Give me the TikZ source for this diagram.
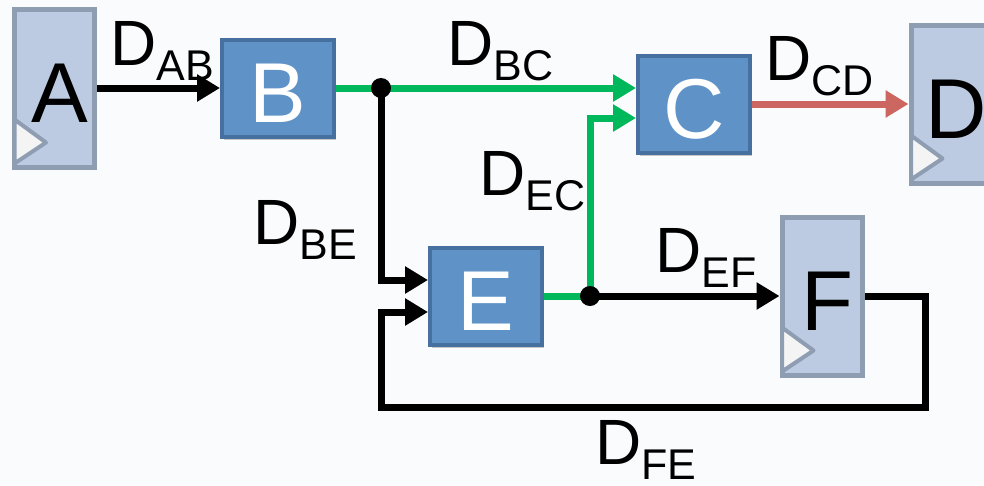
\documentclass[tikz,border=0pt]{standalone}
\usepackage{fontspec}
\setmainfont{Liberation Sans}
\usetikzlibrary{arrows.meta,shadows}

\definecolor{fffill}{HTML}{BCCBE1}
\definecolor{ffline}{HTML}{8F9DB3}
\definecolor{blkfill}{HTML}{5F93C8}
\definecolor{blkline}{HTML}{46709F}
\definecolor{wgreen}{HTML}{00B85C}
\definecolor{wred}{HTML}{CC6660}
\definecolor{clkfill}{HTML}{F4F4F4}
\definecolor{bgcol}{HTML}{FAFBFC}

\newcommand{\dsub}[1]{D\raisebox{-15pt}{\fontsize{43}{43}\selectfont #1}}
\newcommand{\clk}[1]{\draw[clkmark] ([xshift=2.5pt,yshift=6pt]#1.south west) -- ([xshift=34pt,yshift=27pt]#1.south west) -- ([xshift=2.5pt,yshift=50pt]#1.south west) -- cycle;}

\tikzset{
  blk/.style={draw=blkline, fill=blkfill, line width=4pt, minimum width=112pt, minimum height=97pt,
    inner sep=0pt, text=white, font=\fontsize{85}{85}\selectfont, text height=68pt, text depth=0pt,
    drop shadow={shadow xshift=2pt, shadow yshift=-3pt, fill=black, opacity=0.2}},
  ff/.style={draw=ffline, fill=fffill, line width=5pt, minimum width=80pt, minimum height=158pt,
    inner sep=0pt, font=\fontsize{85}{85}\selectfont, text height=68pt, text depth=0pt,
    execute at begin node=\hspace*{10pt},
    drop shadow={shadow xshift=2pt, shadow yshift=-3pt, fill=black, opacity=0.2}},
  clkmark/.style={draw=ffline, fill=clkfill, line width=4pt, line join=round},
  wire/.style={line width=7pt, -{Triangle[length=23pt,width=26pt]}},
  jdot/.style={circle, fill=black, minimum size=20pt, inner sep=0pt},
  dlbl/.style={anchor=base west, inner sep=0pt, font=\fontsize{64}{64}\selectfont}
}

\begin{document}
\begin{tikzpicture}[x=1pt,y=-1pt]
  \useasboundingbox (0,0) rectangle (984,485);
  \fill[bgcol] (0,0) rectangle (984,485);
  \clip (0,0) rectangle (984,485);

  % registers and logic blocks
  \node[ff]  (A) at (54.5,88) {A};
  \node[blk] (B) at (278,88) {B};
  \node[blk] (C) at (694,104) {C};
  \node[ff]  (D) at (951,104) {D};
  \node[blk] (E) at (486,296) {E};
  \node[ff]  (F) at (822,296) {F};
  \clk{A} \clk{D} \clk{F}

  \coordinate (jB) at (381,88);
  \coordinate (jE) at (590,296);
  \coordinate (lpR) at (925,407);
  \coordinate (lpL) at (381,407);

  % connections
  \draw[wire] (A.east) -- (B.west);
  \draw[wire, wgreen] (B.east) -- (C.west |- B.east);
  \draw[wire] (jB) |- ([yshift=16pt]E.west);
  \draw[line width=7pt, wgreen] (E.east) -- (jE);
  \draw[wire, wgreen] (jE) |- ([yshift=-14pt]C.west);
  \draw[wire] (jE) -- (F.west);
  \draw[wire, wred] (C.east) -- (D.west);
  \draw[wire] (F.east) -| (lpR) -- (lpL) |- ([yshift=-16pt]E.west);
  \node[jdot] (dB) at (jB) {};
  \node[jdot] (dE) at (jE) {};

  % delay labels
  \node[dlbl] (lAB) at (110,65) {\dsub{AB}};
  \node[dlbl] (lBC) at (447,65) {\dsub{BC}};
  \node[dlbl] (lCD) at (765,80) {\dsub{CD}};
  \node[dlbl] (lEC) at (479,195) {\dsub{EC}};
  \node[dlbl] (lBE) at (253,244) {\dsub{BE}};
  \node[dlbl] (lEF) at (655,272) {\dsub{EF}};
  \node[dlbl] (lFE) at (595,464) {\dsub{FE}};
\end{tikzpicture}
\end{document}
